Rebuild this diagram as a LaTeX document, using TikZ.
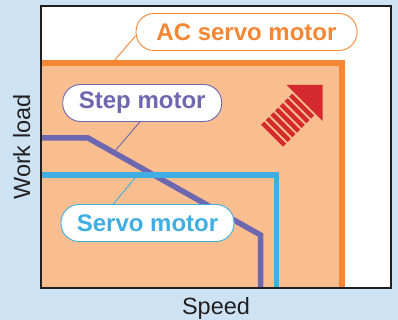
\documentclass[tikz,border=0pt]{standalone}
\usepackage{fontspec}
\setmainfont{Liberation Sans}
\usetikzlibrary{positioning}
\definecolor{bgblue}{HTML}{CDE3F4}
\definecolor{acorange}{HTML}{F58634}
\definecolor{acfill}{HTML}{F9BE8F}
\definecolor{steppurple}{HTML}{6D67B0}
\definecolor{servoblue}{HTML}{40AEE2}
\definecolor{arrowred}{HTML}{D42A2D}
\definecolor{framecol}{HTML}{231F20}
\tikzset{
  pill/.style={rectangle, rounded corners=18pt, fill=white, line width=0.9pt,
    minimum height=37pt, inner sep=2pt,
    font=\fontsize{24}{27}\selectfont\bfseries},
  axis label/.style={font=\fontsize{23.5}{26}\selectfont, text=framecol},
  curve/.style={line width=5.5pt, line join=miter},
  leader/.style={line width=0.9pt},
}

\begin{document}
\begin{tikzpicture}[x=1pt, y=-1pt]

  \useasboundingbox (0,0) rectangle (398,320);
  \fill[bgblue] (0,0) rectangle (398,320);

  % Chart area
  \coordinate (tl) at (41,6);
  \coordinate (br) at (391,288);
  \fill[white] (tl) rectangle (br);
  \coordinate (ac start) at (41,63);
  \coordinate (ac end)   at (342,288);
  \fill[acfill] (ac start) rectangle (ac end);

  % Curves
  \coordinate (step a) at (41,138);
  \coordinate (step b) at (88,138);
  \coordinate (step c) at (260.5,235);
  \coordinate (step d) at (260.5,288);
  \coordinate (servo a) at (41,175);
  \coordinate (servo b) at (276.5,288);

  \draw[curve, acorange] (ac start) -| (ac end);
  \draw[curve, steppurple] (step a) -- (step b) -- (step c) -- (step d);
  \draw[curve, servoblue] (servo a) -| (servo b);

  % Frame
  \draw[line width=2pt, framecol] (tl) rectangle (br);

  % Red arrow
  \begin{scope}[shift={(304.7,103)}, rotate=45]
    \fill[arrowred] (0,-25.5) -- (25.5,0) -- (0,25.5) -- cycle;
    \foreach \k in {0,...,6}
      \fill[arrowred] ({-2.2-\k*6.6},-15.5) rectangle ({-6.6-\k*6.6},15.5);
  \end{scope}

  % Labels
  \node[pill, draw=acorange, text=acorange, minimum width=221pt] (ac) at (246.5,32) {AC servo motor};
  \node[pill, draw=steppurple, text=steppurple, minimum width=159pt] (step) at (142.2,103) {Step motor};
  \node[pill, draw=servoblue, text=servoblue, minimum width=173pt] (servo) at (147.5,223) {Servo motor};

  \coordinate (ac pt)    at (114,61);
  \coordinate (step pt)  at (115,151);
  \coordinate (servo pt) at (135,178);
  \draw[leader, acorange] (ac.182) -- (ac pt);
  \draw[leader, steppurple] (step.263) -- (step pt);
  \draw[leader, servoblue] (servo.151) -- (servo pt);

  % Axes
  \node[axis label, rotate=90, anchor=base] (work) at (30,147) {Work load};
  \node[axis label, anchor=base] (speed) at (216,314) {Speed};

\end{tikzpicture}
\end{document}
